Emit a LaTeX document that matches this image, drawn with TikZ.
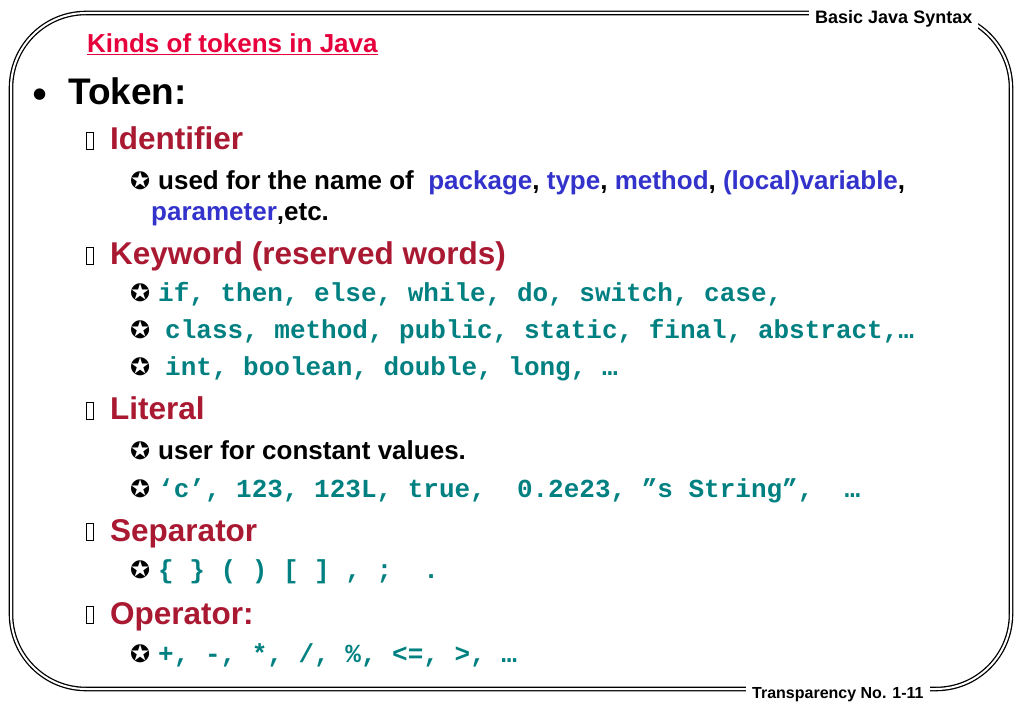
\documentclass[tikz,border=0pt]{standalone}
\usepackage{fontspec}
\setmainfont{Liberation Sans}
\newfontfamily\codefont{Liberation Mono}
\newfontfamily\symfont{DejaVu Sans}
\definecolor{headred}{RGB}{230,0,60}
\definecolor{subred}{RGB}{170,25,50}
\definecolor{kwblue}{RGB}{51,51,204}
\definecolor{codeteal}{RGB}{0,128,128}
\tikzset{
  every node/.style={inner sep=0pt, anchor=base west},
  head/.style={font=\fontsize{37}{42}\selectfont\bfseries},
  sub/.style={font=\fontsize{31.5}{35}\selectfont\bfseries, text=subred},
  item/.style={font=\fontsize{26}{30}\selectfont\bfseries},
  code/.style={font=\fontsize{26}{30}\selectfont\codefont\bfseries, text=codeteal},
  star/.style={font=\fontsize{24}{26}\selectfont\symfont},
  tofu/.style={draw, line width=0.7pt, minimum width=7pt, minimum height=17pt, anchor=south west},
  tag/.style={font=\fontsize{18}{20}\selectfont\bfseries, fill=white, inner xsep=6pt, inner ysep=3pt}
}
\begin{document}
\begin{tikzpicture}[x=1pt, y=-1pt]
\useasboundingbox (0,0) rectangle (1023,708);
% Frame
\draw [double, double distance=2pt, line width=1.3pt, rounded corners=75pt] (11,13) rectangle (1011,689);
\node [tag] (hdr) at (809,24) {Basic Java Syntax};
\node [tag, font=\fontsize{16}{18}\selectfont\bfseries] (ftr) at (746,698) {Transparency No. 1-11};
% Title
\node [font=\fontsize{26}{28}\selectfont\bfseries, text=headred] (title) at (87,53) {\underline{Kinds of tokens in Java}};
% Token
\node [font=\fontsize{15}{17}\selectfont\symfont] (dot) at (33,99) {●};
\node [head] (token) at (68,105) {Token:};
% Identifier
\node [tofu] (b1) at (86,150) {};
\node [sub] (ident) at (110,150) {Identifier};
\node [star] (s1) at (130,190) {✪};
\node [item] (i1) at (158,190) {used for the name of\ \ \textcolor{kwblue}{package}, \textcolor{kwblue}{type}, \textcolor{kwblue}{method}, \textcolor{kwblue}{(local)variable},};
\node [item, text=kwblue] (i1b) at (151,221) {parameter\textcolor{black}{,etc.}};
% Keyword
\node [tofu] (b2) at (86,265) {};
\node [sub] (kw) at (110,265) {Keyword (reserved words)};
\node [star] (s2) at (130,302) {✪};
\node [code] (c1) at (158,302) {if, then, else, while, do, switch, case,};
\node [star] (s3) at (130,339) {✪};
\node [code] (c2) at (165,339) {class, method, public, static, final, abstract,…};
\node [star] (s4) at (130,376) {✪};
\node [code] (c3) at (165,376) {int, boolean, double, long, …};
% Literal
\node [tofu] (b3) at (86,420) {};
\node [sub] (lit) at (110,420) {Literal};
\node [star] (s5) at (130,460) {✪};
\node [item] (i2) at (158,460) {user for constant values.};
\node [star] (s6) at (130,497) {✪};
\node [code] (c4) at (158,497) {‘c’, 123, 123L, true,\ \ 0.2e23, ”s String”,\ \ …};
% Separator
\node [tofu] (b4) at (86,541) {};
\node [sub] (sep) at (110,541) {Separator};
\node [star] (s7) at (130,578) {✪};
\node [code] (c5) at (158,578) {\{ \} ( ) [ ] , ;\ \ .};
% Operator
\node [tofu] (b5) at (86,624) {};
\node [sub] (op) at (110,624) {Operator:};
\node [star] (s8) at (130,662) {✪};
\node [code] (c6) at (158,662) {+, -, *, /, \%, <=, >, …};
\end{tikzpicture}
\end{document}
